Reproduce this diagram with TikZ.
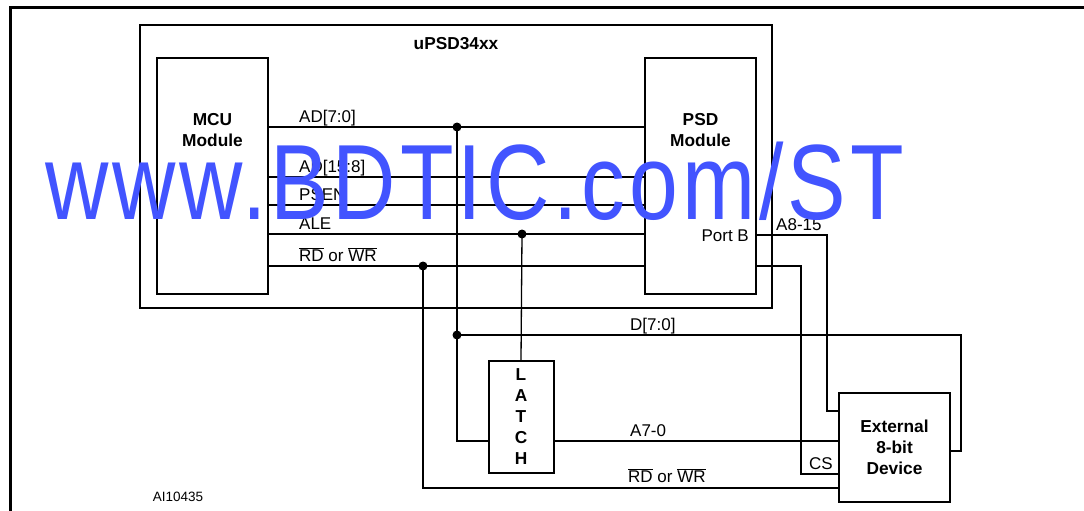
\documentclass[tikz,border=0pt]{standalone}
\usepackage{fontspec}
\setmainfont{Liberation Sans}
\newfontfamily\wmfont[LetterSpace=4.5]{Liberation Sans}
\usetikzlibrary{positioning, calc}
\definecolor{wmblue}{RGB}{66,84,255}
\newcommand{\nbar}[1]{$\overline{\mbox{#1}}$}

\begin{document}
\begin{tikzpicture}[
  x=1pt, y=-1pt,
  modbox/.style={draw, line width=2pt, inner sep=0pt, minimum width=111pt, minimum height=236pt},
  modtext/.style={font=\fontsize{17.3}{21}\selectfont\bfseries, align=center},
  wire/.style={line width=1.3pt},
  siglabel/.style={anchor=base west, inner sep=0pt, font=\fontsize{17}{19}\selectfont},
  junction/.style={circle, fill, inner sep=0pt, minimum size=9pt},
]
\useasboundingbox (0,0) rectangle (1084,511);

% Page frame
\draw[line width=3pt] (10,511) -- (10,8) -- (1084,8);

% Chip outline and modules
\node[draw, line width=2.4pt, minimum width=632pt, minimum height=283pt] (upsd) at (456,166.5) {};
\node[modtext] (title) at ($(upsd.north)+(0,20)$) {uPSD34xx};
\node[modbox] (mcu) at (212.5,176) {};
\node[modbox] (psd) at (700.5,176) {};
\node[modtext] (mcutext) at ($(mcu.north)+(0,73)$) {MCU\\Module};
\node[modtext] (psdtext) at ($(psd.north)+(0,73)$) {PSD\\Module};

% External parts
\node[modbox, minimum width=65pt, minimum height=112pt, modtext] (latch) at (521,417) {L\\A\\T\\C\\H};
\node[modbox, minimum width=111pt, minimum height=109pt, modtext] (ext) at (894.5,447.5) {External\\8-bit\\Device};

% Junction points
\coordinate (ad7) at (457,127);
\coordinate (adh) at (457,177);
\coordinate (psen) at (457,205);
\coordinate (ale) at (522,234);
\coordinate (rdwr) at (423,266);
\coordinate (dbus) at (457,335);
\coordinate (alo) at (457,441);
\coordinate (rdwrx) at (423,488);
\coordinate (pb) at (827,235);
\coordinate (cs) at (801,266);
\coordinate (dend) at (961,335);

% Internal bus lines
\draw[wire] (mcu.east |- ad7) -- (psd.west |- ad7);
\draw[wire] (mcu.east |- adh) -- (psd.west |- adh);
\draw[wire] (mcu.east |- psen) -- (psd.west |- psen);
\draw[wire] (mcu.east |- ale) -- (psd.west |- ale);
\draw[wire] (mcu.east |- rdwr) -- (psd.west |- rdwr);

\node[siglabel] (lad7) at (299,122) {AD[7:0]};
\node[siglabel] (ladh) at (299,172) {AD[15:8]};
\node[siglabel] (lpsen) at (299,200) {PSEN};
\node[siglabel] (lale) at (299,229) {ALE};
\node[siglabel] (lrdwr) at (299,261) {\nbar{RD} or \nbar{WR}};
\node[siglabel, anchor=base east] (lport) at ($(psd.east |- pb)+(-8,6)$) {Port B};

% Lines to latch and device
\draw[wire] (ad7) -- (alo) -- (latch.west |- alo);
\draw[wire] (latch.east |- alo) -- (ext.west |- alo);
\draw[wire] (ale) -- (latch.north);
\draw[wire] (rdwr) -- (rdwrx) -- (ext.west |- rdwrx);
\draw[wire] (dbus) -- (dend) -- (dend |- 0,451) -- (ext.east |- 0,451);
\draw[wire] (psd.east |- pb) -- (pb) -- (pb |- 0,411) -- (ext.west |- 0,411);
\draw[wire] (psd.east |- cs) -- (cs) -- (cs |- 0,474) -- (ext.west |- 0,474);

\node[siglabel] (ld) at (630,330) {D[7:0]};
\node[siglabel] (la70) at (630,436) {A7-0};
\node[siglabel] (lrdwr2) at (628,482) {\nbar{RD} or \nbar{WR}};
\node[siglabel] (la815) at (776,230) {A8-15};
\node[siglabel] (lcs) at (809,469) {CS};

% Dots
\node[junction] at (ad7) {};
\node[junction] at (ale) {};
\node[junction] at (rdwr) {};
\node[junction] at (dbus) {};

\node[font=\fontsize{13.5}{15}\selectfont] (fig) at (178,497) {AI10435};

% Watermark
\node[anchor=base west, inner sep=0pt, text=wmblue, xscale=0.82, font=\wmfont\fontsize{107}{107}\selectfont] (wm) at (45,219) {www.BDTIC.com/ST};
\end{tikzpicture}
\end{document}
